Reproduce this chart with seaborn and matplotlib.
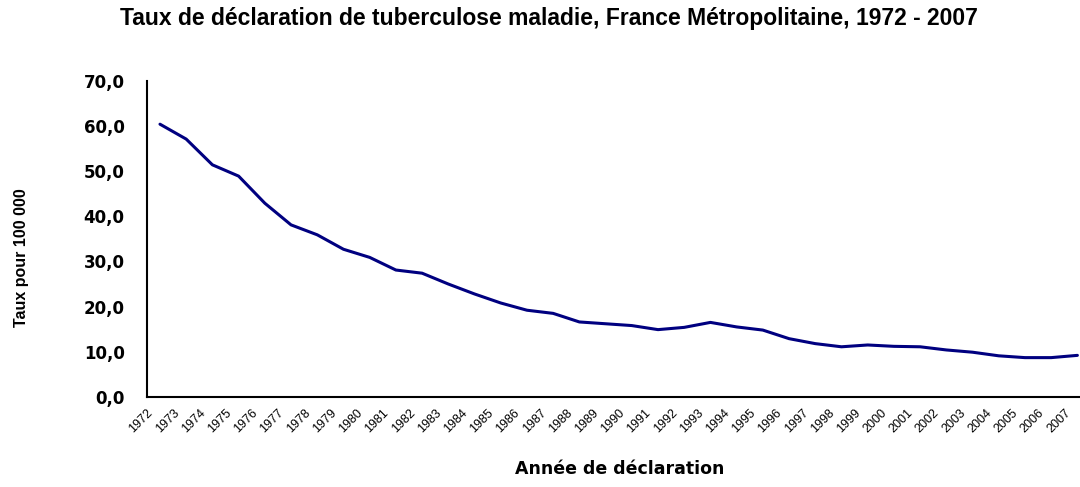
import numpy as np
import pandas as pd
import matplotlib
matplotlib.use("Agg")
import matplotlib.pyplot as plt
import seaborn as sns

# données
annees = list(range(1972, 2008))
taux = [60.4, 57.1, 51.4, 48.9, 42.9, 38.1, 35.9, 32.7, 30.9, 28.1,
        27.4, 25.0, 22.8, 20.8, 19.2, 18.5, 16.6, 16.2, 15.8, 14.9,
        15.4, 16.5, 15.5, 14.8, 12.9, 11.8, 11.1, 11.5, 11.2, 11.1,
        10.4, 9.9, 9.1, 8.7, 8.7, 9.2]
yticks = [0, 10, 20, 30, 40, 50, 60, 70]

sns.set_style("white")
plt.rcParams["font.family"] = ["Liberation Sans", "DejaVu Sans"]
plt.rcParams["text.color"] = "black"
plt.rcParams["xtick.color"] = "black"
plt.rcParams["ytick.color"] = "black"

df = pd.DataFrame({"annee": np.array(annees) + 0.5, "taux": taux})

fig = plt.figure(figsize=(10.8, 4.87), dpi=100)
ax = fig.add_axes([0.136, 0.185, 0.864, 0.649])

sns.lineplot(data=df, x="annee", y="taux", color="#000080", linewidth=2.2, ax=ax)

ax.set_xlim(1972, 2007.6)
ax.set_ylim(0, 70)
ax.set_xticks(annees)
ax.set_xticklabels([str(a) for a in annees], rotation=45, ha="right",
                   rotation_mode="anchor", fontsize=9)
ax.set_yticks(yticks)
ax.set_yticklabels([f"{v:.1f}".replace(".", ",") for v in yticks],
                   fontsize=12, fontweight="bold", family="DejaVu Sans")

ax.tick_params(axis="x", direction="out", length=4, width=1.2, pad=3)
ax.tick_params(axis="y", direction="out", length=7, width=1.2, pad=9)
sns.despine(ax=ax)
for s in ["left", "bottom"]:
    ax.spines[s].set_color("black")
    ax.spines[s].set_linewidth(1.5)

ax.set_xlabel("")
ax.set_ylabel("")
fig.text(0.574, 0.018, "Année de déclaration", ha="center", va="bottom",
         fontsize=12.5, fontweight="bold", family="DejaVu Sans")
fig.text(0.02, 0.47, "Taux pour 100 000", ha="center", va="center",
         rotation=90, fontsize=11.5, fontweight="bold")
fig.text(0.508, 0.963, "Taux de déclaration de tuberculose maladie, France Métropolitaine, 1972 - 2007",
         ha="center", va="center", fontsize=16.5, fontweight="bold")

plt.savefig("out.png", dpi=100)
plt.close()
